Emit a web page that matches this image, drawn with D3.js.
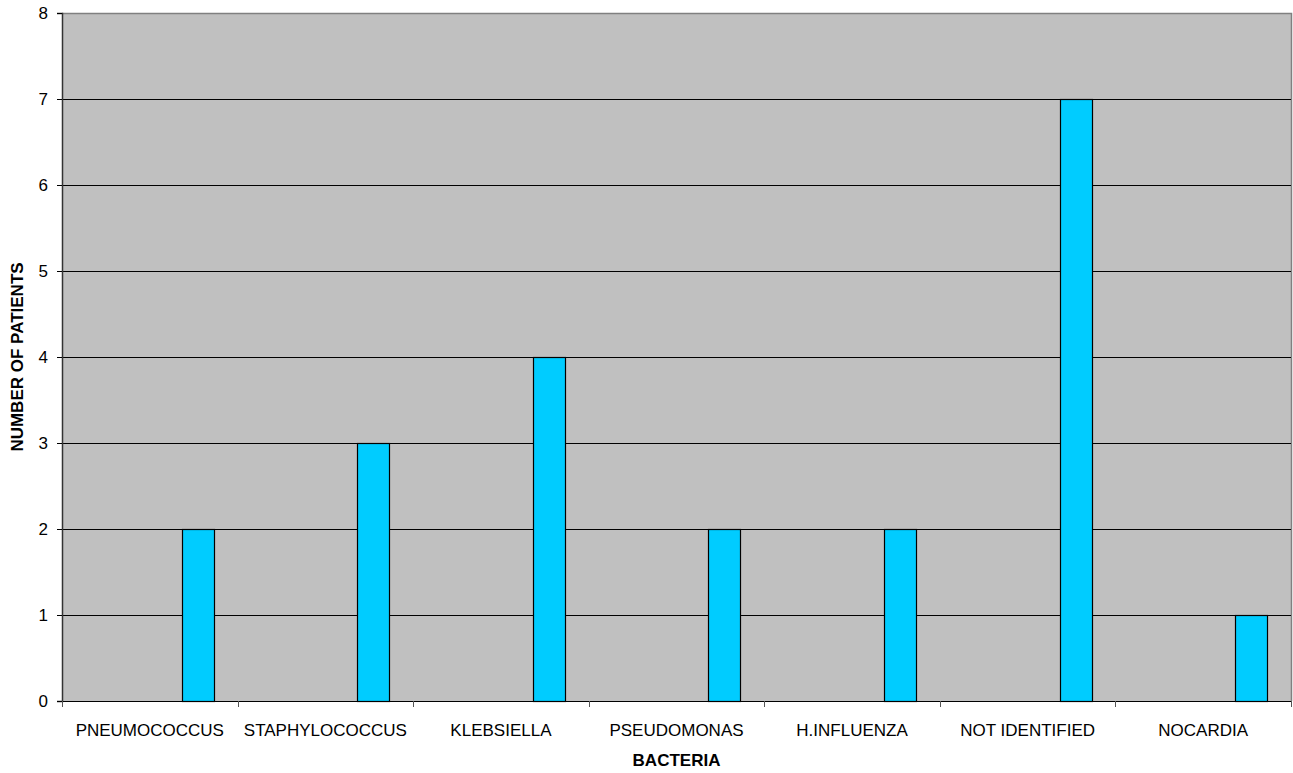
<!DOCTYPE html>
<html>
<head>
<meta charset="utf-8">
<script src="https://cdn.jsdelivr.net/npm/d3@7"></script>
<style>
  html, body { margin: 0; padding: 0; background: #fff; }
  svg { display: block; font-family: "Liberation Sans", Arial, sans-serif; }
</style>
</head>
<body>
<svg id="chart" width="1293" height="773"></svg>
<script>
// Bacteria identified and number of patients for each
const categories = ["PNEUMOCOCCUS", "STAPHYLOCOCCUS", "KLEBSIELLA", "PSEUDOMONAS", "H.INFLUENZA", "NOT IDENTIFIED", "NOCARDIA"];
const patients = [2, 3, 4, 2, 2, 7, 1];
const yTicks = [0, 1, 2, 3, 4, 5, 6, 7, 8];
const seriesSlots = [0, 1, 2, 3];   // slot layout of the grouped bar; data sits in the last slot
const dataSlot = 3;

const svg = d3.select("#chart");
const margin = { left: 62, right: 2, top: 13, bottom: 72 };
const W = 1293, H = 773;
const plotW = W - margin.left - margin.right;
const plotH = H - margin.top - margin.bottom;

const x = d3.scaleBand().domain(categories).range([margin.left, margin.left + plotW]).padding(0);
const slot = d3.scaleBand().domain(seriesSlots).range([0, x.bandwidth()]).paddingInner(0).paddingOuter(0.75);
const y = d3.scaleLinear().domain([0, 8]).range([margin.top + plotH, margin.top]);

// plot background
svg.append("rect")
  .attr("x", margin.left).attr("y", margin.top)
  .attr("width", plotW).attr("height", plotH)
  .attr("fill", "#c0c0c0");

// right and top frame
svg.append("path")
  .attr("d", `M${margin.left},${margin.top + 0.5}H${margin.left + plotW + 0.5}V${margin.top + plotH}`)
  .attr("fill", "none").attr("stroke", "#808080").attr("stroke-width", 1.5);

// horizontal gridlines
svg.append("g").selectAll("line").data(yTicks.filter(t => t > 0 && t < 8)).join("line")
  .attr("x1", margin.left).attr("x2", margin.left + plotW)
  .attr("y1", d => Math.round(y(d)) + 0.5).attr("y2", d => Math.round(y(d)) + 0.5)
  .attr("stroke", "#000").attr("stroke-width", 1);

// bars
svg.append("g").selectAll("rect").data(patients).join("rect")
  .attr("x", (d, i) => Math.round(x(categories[i]) + slot(dataSlot)) + 0.5)
  .attr("y", d => Math.round(y(d)) + 0.5)
  .attr("width", Math.round(slot.bandwidth()))
  .attr("height", d => Math.round(y(0)) - Math.round(y(d)))
  .attr("fill", "#00ccff").attr("stroke", "#000").attr("stroke-width", 1.2);

// y axis
const yAxis = svg.append("g")
  .attr("transform", `translate(${margin.left},0)`)
  .call(d3.axisLeft(y).tickValues(yTicks).tickSize(5).tickPadding(9).tickFormat(d3.format("d")));
yAxis.select(".domain").attr("stroke", "#333").attr("stroke-width", 1.5);
yAxis.selectAll(".tick line").attr("stroke", "#000");
yAxis.selectAll("text").attr("font-size", 17).attr("fill", "#000").attr("font-family", "Liberation Sans, Arial, sans-serif");

// x axis: ticks at category boundaries, labels centred in each category
const xAxisG = svg.append("g").attr("transform", `translate(0,${margin.top + plotH})`);
xAxisG.append("line")
  .attr("x1", margin.left).attr("x2", margin.left + plotW)
  .attr("y1", 0.5).attr("y2", 0.5)
  .attr("stroke", "#000").attr("stroke-width", 1.2);
const boundaries = categories.map(c => x(c)).concat([margin.left + plotW]);
xAxisG.selectAll("line.tick").data(boundaries).join("line")
  .attr("class", "tick")
  .attr("x1", d => Math.round(d) + 0.5).attr("x2", d => Math.round(d) + 0.5)
  .attr("y1", 0).attr("y2", 6)
  .attr("stroke", "#555");
xAxisG.selectAll("text").data(categories).join("text")
  .attr("x", d => x(d) + x.bandwidth() / 2)
  .attr("y", 35)
  .attr("text-anchor", "middle")
  .attr("font-size", 17)
  .attr("fill", "#000")
  .text(d => d);

// axis titles
svg.append("text")
  .attr("x", margin.left + plotW / 2).attr("y", 766)
  .attr("text-anchor", "middle")
  .attr("font-size", 17).attr("font-weight", "bold")
  .text("BACTERIA");
svg.append("text")
  .attr("transform", `translate(23,${margin.top + plotH / 2}) rotate(-90)`)
  .attr("text-anchor", "middle")
  .attr("font-size", 17).attr("font-weight", "bold")
  .text("NUMBER OF PATIENTS");
</script>
</body>
</html>
